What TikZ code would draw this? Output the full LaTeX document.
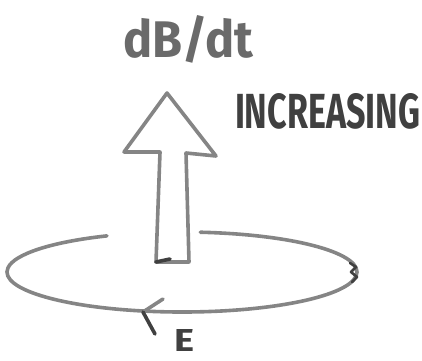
\documentclass[tikz,border=0pt]{standalone}
\usepackage{fontspec}
\setmainfont{Fira Sans}
\usepackage{graphicx}
\definecolor{pencil}{gray}{0.52}
\definecolor{darkpencil}{gray}{0.25}
\tikzset{
  stroke/.style={draw=pencil, line width=3.6pt, line cap=round, line join=round},
  darkstroke/.style={draw=darkpencil, line width=3.6pt, line cap=round, line join=round},
  label/.style={inner sep=0pt, outer sep=0pt, font=\bfseries}
}
\begin{document}
\begin{tikzpicture}[x=1pt,y=-1pt]
\useasboundingbox (0,0) rectangle (422,360);
% texts
\node[label, anchor=base west, text=pencil!80!black] (dbdt) at (123,57) {\resizebox{130pt}{42pt}{dB/dt}};
\node[label, anchor=base west, text=darkpencil] (incr) at (235,128) {\resizebox{185pt}{35pt}{INCREASING}};
\node[label, anchor=base west, text=darkpencil] (efield) at (174,351) {\resizebox{20pt}{22pt}{E}};
% hollow block arrow
\coordinate (tip) at (167,93);
\coordinate (rw) at (216,156);
\coordinate (ir) at (186,153);
\coordinate (br) at (189,262);
\coordinate (bl) at (156,262);
\coordinate (il) at (160,152);
\coordinate (lw) at (124,152);
\draw[stroke] (tip) -- (rw) -- (ir) -- (br) -- (bl) -- (il) -- (lw) -- cycle;
\draw[darkstroke] (bl) -- (170,259);
% loop (ellipse with gap behind arrow)
\coordinate (c) at (182,272);
\draw[stroke] (c) ++(276:175 and 40) arc[start angle=276, end angle=604.6, x radius=175, y radius=40];
% arrowhead on loop
\coordinate (ah) at (143,312);
\draw[stroke] (ah) -- (163,299);
\draw[darkstroke] (ah) -- (155,334);
% dark mark on right side
\draw[darkstroke, line width=2.6pt] (350,263) -- (356,267) -- (351,272) -- (357,277) -- (352,282);
\end{tikzpicture}
\end{document}
